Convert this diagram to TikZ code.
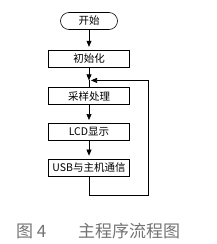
\documentclass[tikz,border=0pt]{standalone}
\usepackage{fontspec}
\setmainfont{Noto Sans CJK SC}
\usepackage{xcolor}
\usetikzlibrary{positioning,arrows.meta}

\begin{document}
\begin{tikzpicture}[
 node distance=20pt,
 box/.style={rectangle, draw, line width=0.6pt, minimum width=81pt, minimum height=17pt, inner sep=1pt, font=\fontsize{10.5pt}{11pt}\selectfont},
 term/.style={box, minimum width=57pt, rounded corners=8.5pt},
 arrow/.style={-{Triangle[length=6pt,width=5pt]}, line width=0.6pt, shorten >=3pt},
 line/.style={line width=0.6pt},
 caption/.style={text=black!55, font=\fontsize{17pt}{18pt}\selectfont, inner sep=0pt}
 ]
 \useasboundingbox (0,0) rectangle (217pt,-244pt);
 % Nodes
 \node[term] (start) at (89pt,-21pt) {开始};
 \node[box, below=of start] (init) {初始化};
 \node[box, below=of init] (sample) {采样处理};
 \node[box, below=18pt of sample] (lcd) {LCD显示};
 \node[box, below=18pt of lcd] (usb) {USB与主机通信};
 \coordinate[below=13pt of init.south] (join);
 \coordinate[below=19pt of usb.south] (loopa);
 \coordinate (loopb) at (148pt,0 |- loopa);
 \coordinate (loopc) at (148pt,0 |- join);
 % Caption
 \node[caption, anchor=west] (fig) at (16pt,-231pt) {图 4};
 \node[caption, anchor=west] (title) at (78pt,-231pt) {主程序流程图};
 % Arrows
 \draw[arrow] (start) -- (init);
 \draw[arrow, shorten >=0pt] (init) -- (join);
 \draw[line] (join) -- (sample);
 \draw[arrow] (sample) -- (lcd);
 \draw[arrow] (lcd) -- (usb);
 % Loop back
 \draw[arrow, shorten >=0pt] (usb.south) -- (loopa) -- (loopb) -- (loopc) -- ([xshift=2pt]join);
\end{tikzpicture}
\end{document}
